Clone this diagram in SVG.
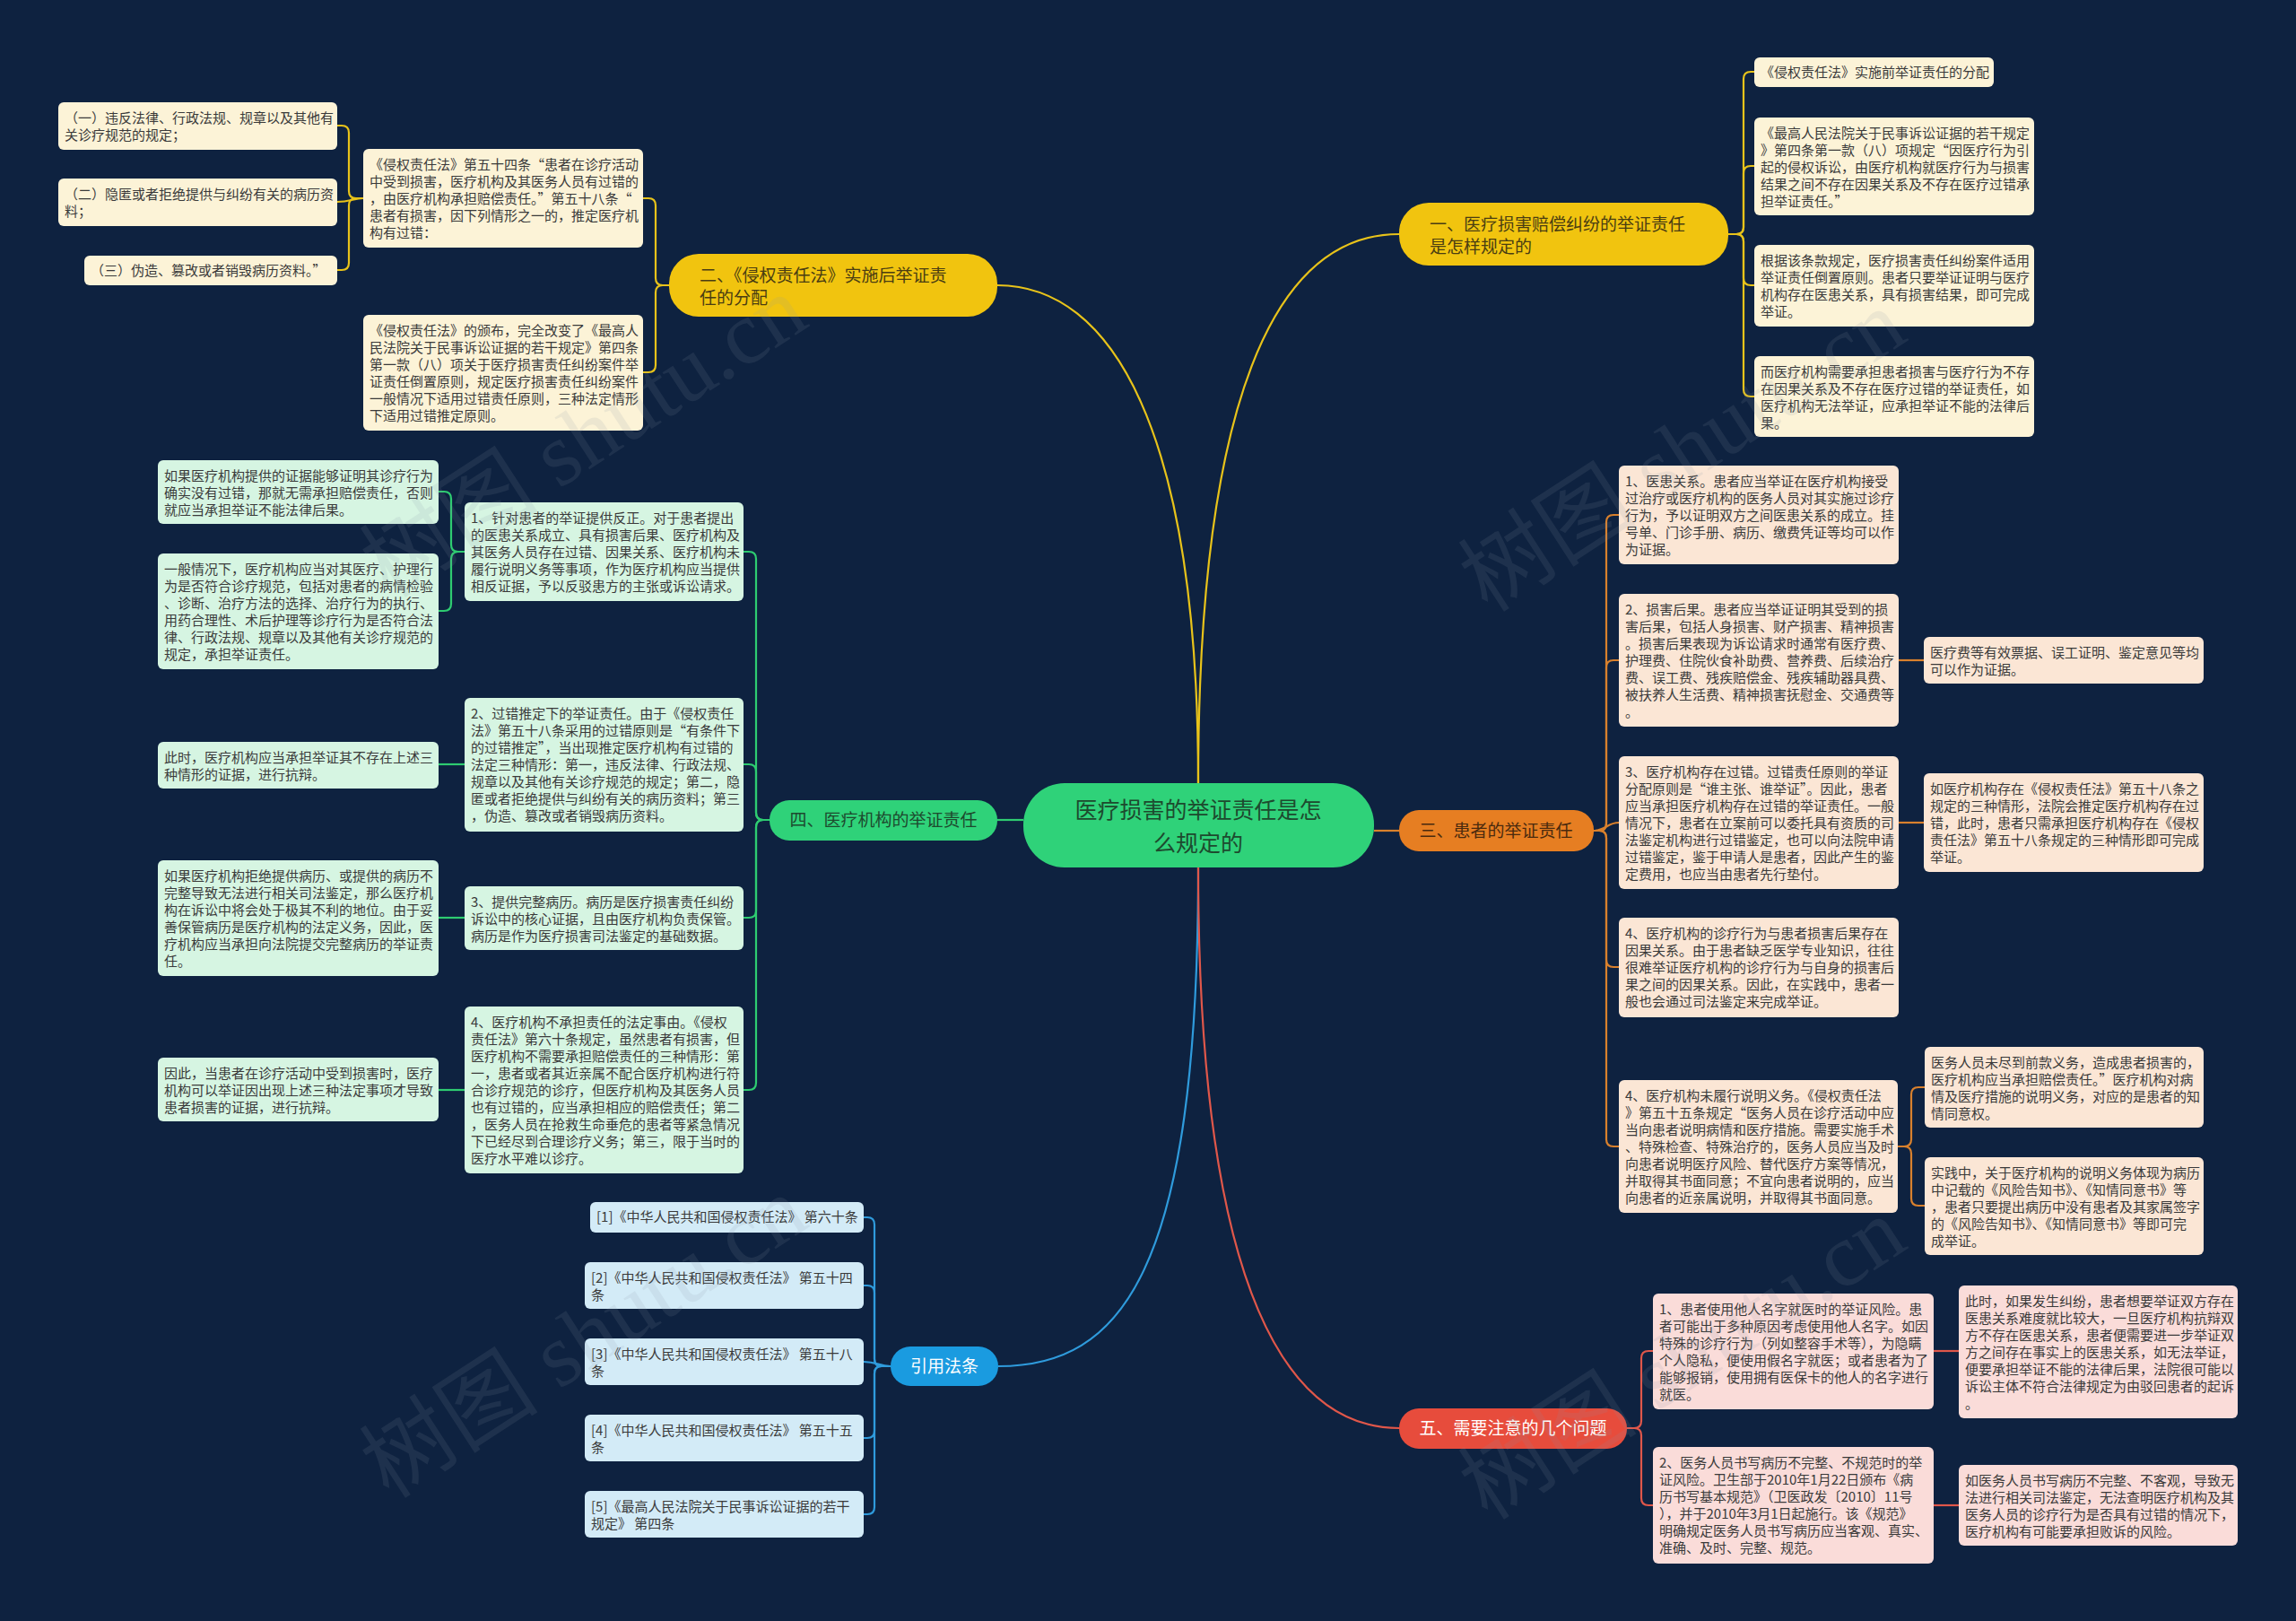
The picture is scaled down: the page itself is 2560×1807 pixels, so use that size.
<svg xmlns="http://www.w3.org/2000/svg" width="2560" height="1807" viewBox="0 0 2560 1807">
<style>
.t{font-family:"Noto Sans CJK SC","Noto Sans",sans-serif;font-size:15px;fill:#3a3a3a}
.ly{fill:#fcf3d7}
.lg{fill:#d6f5e2}
.lo{fill:#fbe6d5}
.lr{fill:#fadcd9}
.lb{fill:#d3ebf7}
.bt{font-family:"Noto Sans CJK SC","Noto Sans",sans-serif;font-size:19px}
.c{fill:none;stroke-width:2.2}
.cy{stroke:#e8c31a}.cg{stroke:#2ecc71}.co{stroke:#d9812d}.cb{stroke:#2f9bdc}.cr{stroke:#e0574a}
.wm{font-family:"Liberation Serif","Noto Sans CJK SC",serif;font-size:100px;fill:#8a97a6;opacity:0.13}
</style>
<rect x="0" y="0" width="2560" height="1807" fill="#0e2240"/>

<g id="connectors">
<path class="c cy" d="M1336 873 C1336 480 1240 318 1112 318"/>
<path class="c cy" d="M1336 873 C1336 450 1420 261 1560 261"/>
<path class="c cg" d="M1141 914 H1112"/>
<path class="c co" d="M1532 926 H1560"/>
<path class="c cb" d="M1336 967 C1336 1420 1250 1523 1113 1523"/>
<path class="c cr" d="M1336 967 C1336 1450 1440 1592 1560 1592"/>

<path class="c cy" d="M1927 261 H1936 Q1944 261 1944 253 V88 Q1944 80 1952 80 H1956"/>
<path class="c cy" d="M1927 261 H1936 Q1944 261 1944 253 V193 Q1944 185 1952 185 H1956"/>
<path class="c cy" d="M1927 261 H1936 Q1944 261 1944 269 V310 Q1944 318 1952 318 H1956"/>
<path class="c cy" d="M1927 261 H1936 Q1944 261 1944 269 V434 Q1944 442 1952 442 H1956"/>

<path class="c cy" d="M746 318 H739 Q731 318 731 310 V229 Q731 221 723 221 H717"/>
<path class="c cy" d="M746 318 H739 Q731 318 731 326 V407 Q731 415 723 415 H717"/>
<path class="c cy" d="M405 221 H397 Q389 221 389 213 V148 Q389 140 381 140 H376"/>
<path class="c cy" d="M405 221 C395 221 390 225 376 225"/>
<path class="c cy" d="M405 221 H397 Q389 221 389 229 V293 Q389 301 381 301 H376"/>

<path class="c cg" d="M858 914 H851 Q843 914 843 906 V623 Q843 615 835 615 H829"/>
<path class="c cg" d="M858 914 H851 Q843 914 843 906 V860 Q843 852 835 852 H829"/>
<path class="c cg" d="M858 914 H851 Q843 914 843 922 V1015 Q843 1023 835 1023 H829"/>
<path class="c cg" d="M858 914 H851 Q843 914 843 922 V1207 Q843 1215 835 1215 H829"/>
<path class="c cg" d="M518 615 H511 Q503 615 503 607 V556 Q503 548 495 548 H489"/>
<path class="c cg" d="M518 615 H511 Q503 615 503 623 V673 Q503 681 495 681 H489"/>
<path class="c cg" d="M518 852 H489"/>
<path class="c cg" d="M518 1023 H489"/>
<path class="c cg" d="M518 1215 H489"/>

<path class="c co" d="M1777 926 H1783 Q1791 926 1791 918 V582 Q1791 574 1799 574 H1805"/>
<path class="c co" d="M1777 926 H1783 Q1791 926 1791 918 V744 Q1791 736 1799 736 H1805"/>
<path class="c co" d="M1777 926 C1790 926 1792 917 1805 917"/>
<path class="c co" d="M1777 926 H1783 Q1791 926 1791 934 V1070 Q1791 1078 1799 1078 H1805"/>
<path class="c co" d="M1777 926 H1783 Q1791 926 1791 934 V1270 Q1791 1278 1799 1278 H1805"/>
<path class="c co" d="M2117 736 H2145"/>
<path class="c co" d="M2117 917 H2145"/>
<path class="c co" d="M2116 1278 H2123 Q2131 1278 2131 1270 V1220 Q2131 1212 2139 1212 H2146"/>
<path class="c co" d="M2116 1278 H2123 Q2131 1278 2131 1286 V1336 Q2131 1344 2139 1344 H2146"/>

<path class="c cb" d="M993 1523 H983 Q975 1523 975 1515 V1365 Q975 1357 967 1357 H963"/>
<path class="c cb" d="M993 1523 H983 Q975 1523 975 1515 V1441 Q975 1433 967 1433 H963"/>
<path class="c cb" d="M993 1523 C980 1523 978 1518 963 1518"/>
<path class="c cb" d="M993 1523 H983 Q975 1523 975 1531 V1595 Q975 1603 967 1603 H963"/>
<path class="c cb" d="M993 1523 H983 Q975 1523 975 1531 V1680 Q975 1688 967 1688 H963"/>

<path class="c cr" d="M1814 1592 H1822 Q1830 1592 1830 1584 V1514 Q1830 1506 1838 1506 H1843"/>
<path class="c cr" d="M1814 1592 H1822 Q1830 1592 1830 1600 V1670 Q1830 1678 1838 1678 H1843"/>
<path class="c cr" d="M2156 1506 H2184"/>
<path class="c cr" d="M2156 1678 H2184"/>
</g>

<g id="root">
<rect x="1141" y="873" width="391" height="94" rx="46" fill="#2fd279"/>
<text class="bt" x="1336" y="912" text-anchor="middle" style="font-size:25px;fill:#1d4a2e"><tspan x="1336">医疗损害的举证责任是怎</tspan><tspan x="1336" dy="37">么规定的</tspan></text>
</g>

<g id="b1">
<rect x="1560" y="226" width="367" height="70" rx="33" fill="#f1c40f"/>
<text class="bt" x="1594" y="257" fill="#4a3d12"><tspan x="1594">一、医疗损害赔偿纠纷的举证责任</tspan><tspan x="1594" dy="25">是怎样规定的</tspan></text>
</g>
<g id="b2">
<rect x="746" y="283" width="366" height="70" rx="33" fill="#f1c40f"/>
<text class="bt" x="780" y="314" fill="#4a3d12"><tspan x="780">二、《侵权责任法》实施后举证责</tspan><tspan x="780" dy="25">任的分配</tspan></text>
</g>
<g id="b3">
<rect x="1560" y="903" width="217" height="46" rx="22" fill="#e67e22"/>
<text class="bt" x="1668" y="933" text-anchor="middle" fill="#4a2a0e">三、患者的举证责任</text>
</g>
<g id="b4">
<rect x="858" y="892" width="254" height="45" rx="22" fill="#2fd279"/>
<text class="bt" x="985" y="921" text-anchor="middle" fill="#1d4a2e">四、医疗机构的举证责任</text>
</g>
<g id="b5">
<rect x="1560" y="1570" width="254" height="45" rx="22" fill="#e74c3c"/>
<text class="bt" x="1687" y="1599" text-anchor="middle" fill="#ffffff">五、需要注意的几个问题</text>
</g>
<g id="b6">
<rect x="993" y="1501" width="120" height="44" rx="22" fill="#1a9be0"/>
<text class="bt" x="1053" y="1530" text-anchor="middle" fill="#ffffff">引用法条</text>
</g>

<g id="n-c1"><rect class="ly" x="1956" y="64" width="267" height="33" rx="6"/>
<text class="t" x="1963" y="86">《侵权责任法》实施前举证责任的分配</text></g>
<g id="n-c2"><rect class="ly" x="1956" y="131" width="312" height="109" rx="6"/>
<text class="t" x="1963" y="154"><tspan x="1963">《最高人民法院关于民事诉讼证据的若干规定</tspan><tspan x="1963" dy="19">》第四条第一款（八）项规定“因医疗行为引</tspan><tspan x="1963" dy="19">起的侵权诉讼，由医疗机构就医疗行为与损害</tspan><tspan x="1963" dy="19">结果之间不存在因果关系及不存在医疗过错承</tspan><tspan x="1963" dy="19">担举证责任。”</tspan></text></g>
<g id="n-c3"><rect class="ly" x="1956" y="273" width="312" height="91" rx="6"/>
<text class="t" x="1963" y="296"><tspan x="1963">根据该条款规定，医疗损害责任纠纷案件适用</tspan><tspan x="1963" dy="19">举证责任倒置原则。患者只要举证证明与医疗</tspan><tspan x="1963" dy="19">机构存在医患关系，具有损害结果，即可完成</tspan><tspan x="1963" dy="19">举证。</tspan></text></g>
<g id="n-c4"><rect class="ly" x="1956" y="397" width="312" height="90" rx="6"/>
<text class="t" x="1963" y="420"><tspan x="1963">而医疗机构需要承担患者损害与医疗行为不存</tspan><tspan x="1963" dy="19">在因果关系及不存在医疗过错的举证责任，如</tspan><tspan x="1963" dy="19">医疗机构无法举证，应承担举证不能的法律后</tspan><tspan x="1963" dy="19">果。</tspan></text></g>

<g id="n-A"><rect class="ly" x="405" y="166" width="312" height="110" rx="6"/>
<text class="t" x="412" y="189"><tspan x="412">《侵权责任法》第五十四条“患者在诊疗活动</tspan><tspan x="412" dy="19">中受到损害，医疗机构及其医务人员有过错的</tspan><tspan x="412" dy="19">，由医疗机构承担赔偿责任。”第五十八条“</tspan><tspan x="412" dy="19">患者有损害，因下列情形之一的，推定医疗机</tspan><tspan x="412" dy="19">构有过错：</tspan></text></g>
<g id="n-B"><rect class="ly" x="405" y="351" width="312" height="129" rx="6"/>
<text class="t" x="412" y="374"><tspan x="412">《侵权责任法》的颁布，完全改变了《最高人</tspan><tspan x="412" dy="19">民法院关于民事诉讼证据的若干规定》第四条</tspan><tspan x="412" dy="19">第一款（八）项关于医疗损害责任纠纷案件举</tspan><tspan x="412" dy="19">证责任倒置原则，规定医疗损害责任纠纷案件</tspan><tspan x="412" dy="19">一般情况下适用过错责任原则，三种法定情形</tspan><tspan x="412" dy="19">下适用过错推定原则。</tspan></text></g>
<g id="n-a1"><rect class="ly" x="65" y="114" width="311" height="53" rx="6"/>
<text class="t" x="72" y="137"><tspan x="72">（一）违反法律、行政法规、规章以及其他有</tspan><tspan x="72" dy="19">关诊疗规范的规定；</tspan></text></g>
<g id="n-a2"><rect class="ly" x="65" y="199" width="311" height="53" rx="6"/>
<text class="t" x="72" y="222"><tspan x="72">（二）隐匿或者拒绝提供与纠纷有关的病历资</tspan><tspan x="72" dy="19">料；</tspan></text></g>
<g id="n-a3"><rect class="ly" x="94" y="285" width="282" height="33" rx="6"/>
<text class="t" x="101" y="307">（三）伪造、篡改或者销毁病历资料。”</text></g>

<g id="n-g1"><rect class="lg" x="518" y="560" width="311" height="110" rx="6"/>
<text class="t" x="525" y="583"><tspan x="525">1、针对患者的举证提供反正。对于患者提出</tspan><tspan x="525" dy="19">的医患关系成立、具有损害后果、医疗机构及</tspan><tspan x="525" dy="19">其医务人员存在过错、因果关系、医疗机构未</tspan><tspan x="525" dy="19">履行说明义务等事项，作为医疗机构应当提供</tspan><tspan x="525" dy="19">相反证据，予以反驳患方的主张或诉讼请求。</tspan></text></g>
<g id="n-g1a"><rect class="lg" x="176" y="513" width="313" height="71" rx="6"/>
<text class="t" x="183" y="536"><tspan x="183">如果医疗机构提供的证据能够证明其诊疗行为</tspan><tspan x="183" dy="19">确实没有过错，那就无需承担赔偿责任，否则</tspan><tspan x="183" dy="19">就应当承担举证不能法律后果。</tspan></text></g>
<g id="n-g1b"><rect class="lg" x="176" y="617" width="313" height="129" rx="6"/>
<text class="t" x="183" y="640"><tspan x="183">一般情况下，医疗机构应当对其医疗、护理行</tspan><tspan x="183" dy="19">为是否符合诊疗规范，包括对患者的病情检验</tspan><tspan x="183" dy="19">、诊断、治疗方法的选择、治疗行为的执行、</tspan><tspan x="183" dy="19">用药合理性、术后护理等诊疗行为是否符合法</tspan><tspan x="183" dy="19">律、行政法规、规章以及其他有关诊疗规范的</tspan><tspan x="183" dy="19">规定，承担举证责任。</tspan></text></g>
<g id="n-g2"><rect class="lg" x="518" y="778" width="311" height="149" rx="6"/>
<text class="t" x="525" y="801"><tspan x="525">2、过错推定下的举证责任。由于《侵权责任</tspan><tspan x="525" dy="19">法》第五十八条采用的过错原则是“有条件下</tspan><tspan x="525" dy="19">的过错推定”，当出现推定医疗机构有过错的</tspan><tspan x="525" dy="19">法定三种情形：第一，违反法律、行政法规、</tspan><tspan x="525" dy="19">规章以及其他有关诊疗规范的规定；第二，隐</tspan><tspan x="525" dy="19">匿或者拒绝提供与纠纷有关的病历资料；第三</tspan><tspan x="525" dy="19">，伪造、篡改或者销毁病历资料。</tspan></text></g>
<g id="n-g2a"><rect class="lg" x="176" y="827" width="313" height="52" rx="6"/>
<text class="t" x="183" y="850"><tspan x="183">此时，医疗机构应当承担举证其不存在上述三</tspan><tspan x="183" dy="19">种情形的证据，进行抗辩。</tspan></text></g>
<g id="n-g3"><rect class="lg" x="518" y="988" width="311" height="71" rx="6"/>
<text class="t" x="525" y="1011"><tspan x="525">3、提供完整病历。病历是医疗损害责任纠纷</tspan><tspan x="525" dy="19">诉讼中的核心证据，且由医疗机构负责保管。</tspan><tspan x="525" dy="19">病历是作为医疗损害司法鉴定的基础数据。</tspan></text></g>
<g id="n-g3a"><rect class="lg" x="176" y="959" width="313" height="129" rx="6"/>
<text class="t" x="183" y="982"><tspan x="183">如果医疗机构拒绝提供病历、或提供的病历不</tspan><tspan x="183" dy="19">完整导致无法进行相关司法鉴定，那么医疗机</tspan><tspan x="183" dy="19">构在诉讼中将会处于极其不利的地位。由于妥</tspan><tspan x="183" dy="19">善保管病历是医疗机构的法定义务，因此，医</tspan><tspan x="183" dy="19">疗机构应当承担向法院提交完整病历的举证责</tspan><tspan x="183" dy="19">任。</tspan></text></g>
<g id="n-g4"><rect class="lg" x="518" y="1122" width="311" height="186" rx="6"/>
<text class="t" x="525" y="1145"><tspan x="525">4、医疗机构不承担责任的法定事由。《侵权</tspan><tspan x="525" dy="19">责任法》第六十条规定，虽然患者有损害，但</tspan><tspan x="525" dy="19">医疗机构不需要承担赔偿责任的三种情形：第</tspan><tspan x="525" dy="19">一，患者或者其近亲属不配合医疗机构进行符</tspan><tspan x="525" dy="19">合诊疗规范的诊疗，但医疗机构及其医务人员</tspan><tspan x="525" dy="19">也有过错的，应当承担相应的赔偿责任；第二</tspan><tspan x="525" dy="19">，医务人员在抢救生命垂危的患者等紧急情况</tspan><tspan x="525" dy="19">下已经尽到合理诊疗义务；第三，限于当时的</tspan><tspan x="525" dy="19">医疗水平难以诊疗。</tspan></text></g>
<g id="n-g4a"><rect class="lg" x="176" y="1179" width="313" height="71" rx="6"/>
<text class="t" x="183" y="1202"><tspan x="183">因此，当患者在诊疗活动中受到损害时，医疗</tspan><tspan x="183" dy="19">机构可以举证因出现上述三种法定事项才导致</tspan><tspan x="183" dy="19">患者损害的证据，进行抗辩。</tspan></text></g>

<g id="n-o1"><rect class="lo" x="1805" y="519" width="312" height="110" rx="6"/>
<text class="t" x="1812" y="542"><tspan x="1812">1、医患关系。患者应当举证在医疗机构接受</tspan><tspan x="1812" dy="19">过治疗或医疗机构的医务人员对其实施过诊疗</tspan><tspan x="1812" dy="19">行为，予以证明双方之间医患关系的成立。挂</tspan><tspan x="1812" dy="19">号单、门诊手册、病历、缴费凭证等均可以作</tspan><tspan x="1812" dy="19">为证据。</tspan></text></g>
<g id="n-o2"><rect class="lo" x="1805" y="662" width="312" height="148" rx="6"/>
<text class="t" x="1812" y="685"><tspan x="1812">2、损害后果。患者应当举证证明其受到的损</tspan><tspan x="1812" dy="19">害后果，包括人身损害、财产损害、精神损害</tspan><tspan x="1812" dy="19">。损害后果表现为诉讼请求时通常有医疗费、</tspan><tspan x="1812" dy="19">护理费、住院伙食补助费、营养费、后续治疗</tspan><tspan x="1812" dy="19">费、误工费、残疾赔偿金、残疾辅助器具费、</tspan><tspan x="1812" dy="19">被扶养人生活费、精神损害抚慰金、交通费等</tspan><tspan x="1812" dy="19">。</tspan></text></g>
<g id="n-o3"><rect class="lo" x="1805" y="843" width="312" height="148" rx="6"/>
<text class="t" x="1812" y="866"><tspan x="1812">3、医疗机构存在过错。过错责任原则的举证</tspan><tspan x="1812" dy="19">分配原则是“谁主张、谁举证”。因此，患者</tspan><tspan x="1812" dy="19">应当承担医疗机构存在过错的举证责任。一般</tspan><tspan x="1812" dy="19">情况下，患者在立案前可以委托具有资质的司</tspan><tspan x="1812" dy="19">法鉴定机构进行过错鉴定，也可以向法院申请</tspan><tspan x="1812" dy="19">过错鉴定，鉴于申请人是患者，因此产生的鉴</tspan><tspan x="1812" dy="19">定费用，也应当由患者先行垫付。</tspan></text></g>
<g id="n-o4"><rect class="lo" x="1805" y="1023" width="312" height="111" rx="6"/>
<text class="t" x="1812" y="1046"><tspan x="1812">4、医疗机构的诊疗行为与患者损害后果存在</tspan><tspan x="1812" dy="19">因果关系。由于患者缺乏医学专业知识，往往</tspan><tspan x="1812" dy="19">很难举证医疗机构的诊疗行为与自身的损害后</tspan><tspan x="1812" dy="19">果之间的因果关系。因此，在实践中，患者一</tspan><tspan x="1812" dy="19">般也会通过司法鉴定来完成举证。</tspan></text></g>
<g id="n-o5"><rect class="lo" x="1805" y="1204" width="311" height="148" rx="6"/>
<text class="t" x="1812" y="1227"><tspan x="1812">4、医疗机构未履行说明义务。《侵权责任法</tspan><tspan x="1812" dy="19">》第五十五条规定“医务人员在诊疗活动中应</tspan><tspan x="1812" dy="19">当向患者说明病情和医疗措施。需要实施手术</tspan><tspan x="1812" dy="19">、特殊检查、特殊治疗的，医务人员应当及时</tspan><tspan x="1812" dy="19">向患者说明医疗风险、替代医疗方案等情况，</tspan><tspan x="1812" dy="19">并取得其书面同意；不宜向患者说明的，应当</tspan><tspan x="1812" dy="19">向患者的近亲属说明，并取得其书面同意。</tspan></text></g>
<g id="n-o2a"><rect class="lo" x="2145" y="710" width="312" height="52" rx="6"/>
<text class="t" x="2152" y="733"><tspan x="2152">医疗费等有效票据、误工证明、鉴定意见等均</tspan><tspan x="2152" dy="19">可以作为证据。</tspan></text></g>
<g id="n-o3a"><rect class="lo" x="2145" y="862" width="312" height="110" rx="6"/>
<text class="t" x="2152" y="885"><tspan x="2152">如医疗机构存在《侵权责任法》第五十八条之</tspan><tspan x="2152" dy="19">规定的三种情形，法院会推定医疗机构存在过</tspan><tspan x="2152" dy="19">错，此时，患者只需承担医疗机构存在《侵权</tspan><tspan x="2152" dy="19">责任法》第五十八条规定的三种情形即可完成</tspan><tspan x="2152" dy="19">举证。</tspan></text></g>
<g id="n-o5a"><rect class="lo" x="2146" y="1167" width="311" height="90" rx="6"/>
<text class="t" x="2153" y="1190"><tspan x="2153">医务人员未尽到前款义务，造成患者损害的，</tspan><tspan x="2153" dy="19">医疗机构应当承担赔偿责任。”医疗机构对病</tspan><tspan x="2153" dy="19">情及医疗措施的说明义务，对应的是患者的知</tspan><tspan x="2153" dy="19">情同意权。</tspan></text></g>
<g id="n-o5b"><rect class="lo" x="2146" y="1290" width="311" height="109" rx="6"/>
<text class="t" x="2153" y="1313"><tspan x="2153">实践中，关于医疗机构的说明义务体现为病历</tspan><tspan x="2153" dy="19">中记载的《风险告知书》、《知情同意书》等</tspan><tspan x="2153" dy="19">，患者只要提出病历中没有患者及其家属签字</tspan><tspan x="2153" dy="19">的《风险告知书》、《知情同意书》等即可完</tspan><tspan x="2153" dy="19">成举证。</tspan></text></g>

<g id="n-r1"><rect class="lr" x="1843" y="1442" width="313" height="129" rx="6"/>
<text class="t" x="1850" y="1465"><tspan x="1850">1、患者使用他人名字就医时的举证风险。患</tspan><tspan x="1850" dy="19">者可能出于多种原因考虑使用他人名字。如因</tspan><tspan x="1850" dy="19">特殊的诊疗行为（列如整容手术等），为隐瞒</tspan><tspan x="1850" dy="19">个人隐私，便使用假名字就医；或者患者为了</tspan><tspan x="1850" dy="19">能够报销，使用拥有医保卡的他人的名字进行</tspan><tspan x="1850" dy="19">就医。</tspan></text></g>
<g id="n-r1a"><rect class="lr" x="2184" y="1433" width="311" height="148" rx="6"/>
<text class="t" x="2191" y="1456"><tspan x="2191">此时，如果发生纠纷，患者想要举证双方存在</tspan><tspan x="2191" dy="19">医患关系难度就比较大，一旦医疗机构抗辩双</tspan><tspan x="2191" dy="19">方不存在医患关系，患者便需要进一步举证双</tspan><tspan x="2191" dy="19">方之间存在事实上的医患关系，如无法举证，</tspan><tspan x="2191" dy="19">便要承担举证不能的法律后果，法院很可能以</tspan><tspan x="2191" dy="19">诉讼主体不符合法律规定为由驳回患者的起诉</tspan><tspan x="2191" dy="19">。</tspan></text></g>
<g id="n-r2"><rect class="lr" x="1843" y="1613" width="313" height="130" rx="6"/>
<text class="t" x="1850" y="1636"><tspan x="1850">2、医务人员书写病历不完整、不规范时的举</tspan><tspan x="1850" dy="19">证风险。卫生部于2010年1月22日颁布《病</tspan><tspan x="1850" dy="19">历书写基本规范》（卫医政发〔2010〕11号</tspan><tspan x="1850" dy="19">），并于2010年3月1日起施行。该《规范》</tspan><tspan x="1850" dy="19">明确规定医务人员书写病历应当客观、真实、</tspan><tspan x="1850" dy="19">准确、及时、完整、规范。</tspan></text></g>
<g id="n-r2a"><rect class="lr" x="2184" y="1633" width="311" height="90" rx="6"/>
<text class="t" x="2191" y="1656"><tspan x="2191">如医务人员书写病历不完整、不客观，导致无</tspan><tspan x="2191" dy="19">法进行相关司法鉴定，无法查明医疗机构及其</tspan><tspan x="2191" dy="19">医务人员的诊疗行为是否具有过错的情况下，</tspan><tspan x="2191" dy="19">医疗机构有可能要承担败诉的风险。</tspan></text></g>

<g id="n-q1"><rect class="lb" x="658" y="1340" width="305" height="34" rx="6"/>
<text class="t" x="665" y="1362">[1]《中华人民共和国侵权责任法》 第六十条</text></g>
<g id="n-q2"><rect class="lb" x="652" y="1407" width="311" height="52" rx="6"/>
<text class="t" x="659" y="1430"><tspan x="659">[2]《中华人民共和国侵权责任法》 第五十四</tspan><tspan x="659" dy="19">条</tspan></text></g>
<g id="n-q3"><rect class="lb" x="652" y="1492" width="311" height="52" rx="6"/>
<text class="t" x="659" y="1515"><tspan x="659">[3]《中华人民共和国侵权责任法》 第五十八</tspan><tspan x="659" dy="19">条</tspan></text></g>
<g id="n-q4"><rect class="lb" x="652" y="1577" width="311" height="52" rx="6"/>
<text class="t" x="659" y="1600"><tspan x="659">[4]《中华人民共和国侵权责任法》 第五十五</tspan><tspan x="659" dy="19">条</tspan></text></g>
<g id="n-q5"><rect class="lb" x="652" y="1662" width="311" height="52" rx="6"/>
<text class="t" x="659" y="1685"><tspan x="659">[5]《最高人民法院关于民事诉讼证据的若干</tspan><tspan x="659" dy="19">规定》 第四条</tspan></text></g>

<g id="watermarks">
<text class="wm" x="653" y="520" text-anchor="middle" transform="rotate(-33 653 490)">树图 shutu.cn</text>
<text class="wm" x="1878" y="536" text-anchor="middle" transform="rotate(-33 1878 506)">树图 shutu.cn</text>
<text class="wm" x="653" y="1524" text-anchor="middle" transform="rotate(-33 653 1494)">树图 shutu.cn</text>
<text class="wm" x="1878" y="1548" text-anchor="middle" transform="rotate(-33 1878 1518)">树图 shutu.cn</text>
</g>
</svg>
